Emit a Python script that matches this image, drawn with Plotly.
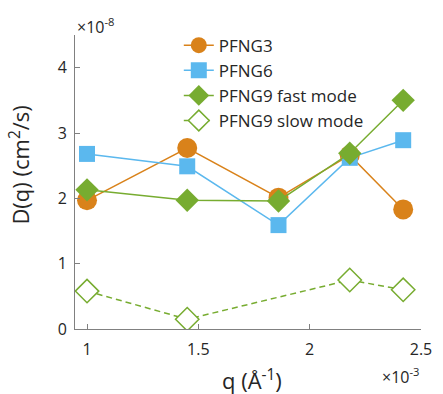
import plotly.graph_objects as go

q = [1.0, 1.45, 1.86, 2.18, 2.42]
pfng3 = [1.97, 2.77, 2.01, 2.66, 1.83]
pfng6 = [2.68, 2.49, 1.59, 2.62, 2.89]
pfng9_fast = [2.13, 1.97, 1.96, 2.69, 3.50]
q_slow = [1.0, 1.45, 2.18, 2.42]
pfng9_slow = [0.58, 0.15, 0.75, 0.60]

names = ["PFNG3", "PFNG6", "PFNG9 fast mode", "PFNG9 slow mode"]
orange = "#D9821A"
blue = "#5BB8EE"
green = "#77AC30"
FONT = "Open Sans"
TXT = "#262626"

fig = go.Figure()
fig.add_trace(go.Scatter(x=q, y=pfng3, name=names[0], mode="lines+markers",
                         line=dict(color=orange, width=1.5),
                         marker=dict(symbol="circle", size=20, color=orange)))
fig.add_trace(go.Scatter(x=q, y=pfng6, name=names[1], mode="lines+markers",
                         line=dict(color=blue, width=1.5),
                         marker=dict(symbol="square", size=16, color=blue)))
fig.add_trace(go.Scatter(x=q, y=pfng9_fast, name=names[2], mode="lines+markers",
                         line=dict(color=green, width=1.5),
                         marker=dict(symbol="diamond", size=18, color=green)))
fig.add_trace(go.Scatter(x=q_slow, y=pfng9_slow, name=names[3], mode="lines+markers",
                         line=dict(color=green, width=1.5, dash="6px,4px"),
                         marker=dict(symbol="diamond", size=18, color="white",
                                     line=dict(width=1.5, color=green))))

axis_common = dict(showgrid=False, zeroline=False, showline=True, linecolor="#808080",
                   linewidth=1, ticks="inside", tickcolor="#808080", ticklen=5,
                   ticklabeloverflow="allow",
                   tickfont=dict(family=FONT, size=16, color=TXT))

fig.update_layout(
    width=443, height=394,
    margin=dict(l=75, r=11, t=35, b=65),
    paper_bgcolor="white", plot_bgcolor="white",
    font=dict(family=FONT, color=TXT),
    xaxis=dict(range=[0.946, 2.5], tickvals=[1, 1.5, 2, 2.5], ticktext=["1", "1.5", "2", "2.5"],
               ticklabelstandoff=6, **axis_common),
    yaxis=dict(range=[0, 4.5], tickvals=[0, 1, 2, 3, 4], ticklabelstandoff=4, **axis_common),
    legend=dict(x=0.3, y=1.025, xanchor="left", yanchor="top", bgcolor="rgba(0,0,0,0)",
                font=dict(family=FONT, size=17, color=TXT), tracegroupgap=0,
                itemsizing="trace", itemwidth=30),
    showlegend=True,
)

fig.add_annotation(text="D(q) (cm<sup>2</sup>/s)", xref="paper", yref="paper", x=-0.16, y=0.558,
                   xanchor="center", yanchor="middle", textangle=-90, showarrow=False,
                   font=dict(family=FONT, size=22, color=TXT))
fig.add_annotation(text="q (Å<sup>-1</sup>)", xref="paper", yref="paper", x=0.513, y=-0.172,
                   xanchor="center", yanchor="middle", showarrow=False,
                   font=dict(family=FONT, size=22, color=TXT))
fig.add_annotation(text="×10<sup>-8</sup>", xref="paper", yref="paper", x=0.0, y=1.031,
                   xanchor="left", yanchor="middle", showarrow=False,
                   font=dict(family=FONT, size=16, color=TXT))
fig.add_annotation(text="×10<sup>-3</sup>", xref="paper", yref="paper", x=1.0, y=-0.16,
                   xanchor="right", yanchor="middle", showarrow=False,
                   font=dict(family=FONT, size=16, color=TXT))

fig.write_html("out.html")
